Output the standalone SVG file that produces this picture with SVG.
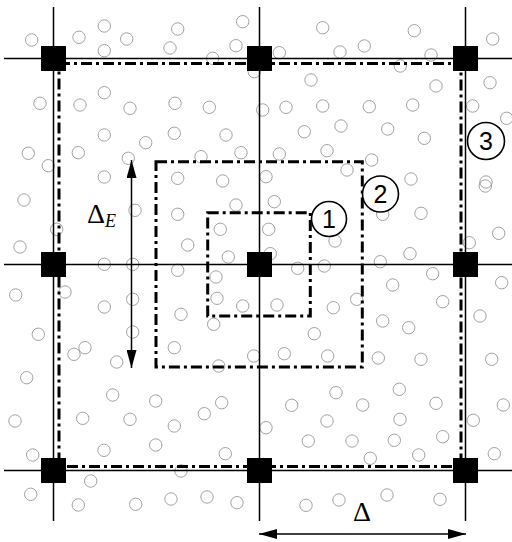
<svg xmlns="http://www.w3.org/2000/svg" width="512" height="542" viewBox="0 0 512 542">
<defs>
<style>
.dot{fill:none;stroke:#8a8a8a;stroke-width:0.8}
.grid{stroke:#000;stroke-width:1.5;fill:none}
.dash{fill:none;stroke:#000;stroke-width:3;stroke-dasharray:11 4 3 4}
.node{fill:#000}
.arr{stroke:#000;stroke-width:1.5;fill:none}
.lbl{fill:#fff;stroke:#000;stroke-width:1.6}
.num{font-family:"Liberation Sans",Arial,sans-serif;font-size:25px;text-anchor:middle}
.math{font-family:"Liberation Serif","Times New Roman",serif}
</style>
<marker id="ah" viewBox="0 0 18 10" markerWidth="18" markerHeight="10" refX="18" refY="5" orient="auto-start-reverse" markerUnits="userSpaceOnUse">
<path d="M0,0 L18,5 L0,10 z" fill="#000"/>
</marker>
</defs>
<rect width="512" height="542" fill="#fff"/>
<g id="particles">
<circle class="dot" cx="31.7" cy="40" r="6.2"/><circle class="dot" cx="79" cy="37.3" r="6.2"/><circle class="dot" cx="104.3" cy="26" r="6.2"/><circle class="dot" cx="126.7" cy="39" r="6.2"/><circle class="dot" cx="104.3" cy="50.7" r="6.2"/><circle class="dot" cx="170" cy="48" r="6.2"/><circle class="dot" cx="40" cy="103.3" r="6.2"/><circle class="dot" cx="80" cy="105" r="6.2"/><circle class="dot" cx="104.3" cy="92.7" r="6.2"/><circle class="dot" cx="130" cy="108.3" r="6.2"/><circle class="dot" cx="175" cy="103.3" r="6.2"/><circle class="dot" cx="104.3" cy="135" r="6.2"/><circle class="dot" cx="145.7" cy="142.7" r="6.2"/><circle class="dot" cx="174.3" cy="133.3" r="6.2"/><circle class="dot" cx="28.3" cy="153.3" r="6.2"/><circle class="dot" cx="48.3" cy="165.7" r="6.2"/><circle class="dot" cx="78.3" cy="152.7" r="6.2"/><circle class="dot" cx="128.3" cy="158.3" r="6.2"/><circle class="dot" cx="104.3" cy="177" r="6.2"/>
<circle class="dot" cx="177.7" cy="29" r="6.2"/><circle class="dot" cx="242.7" cy="21.7" r="6.2"/><circle class="dot" cx="322.7" cy="27.7" r="6.2"/><circle class="dot" cx="236" cy="45.7" r="6.2"/><circle class="dot" cx="212.7" cy="58.3" r="6.2"/><circle class="dot" cx="279.3" cy="52.7" r="6.2"/><circle class="dot" cx="340" cy="52" r="6.2"/><circle class="dot" cx="254.3" cy="71.7" r="6.2"/><circle class="dot" cx="311" cy="80" r="6.2"/><circle class="dot" cx="209.3" cy="107.3" r="6.2"/><circle class="dot" cx="262.7" cy="110" r="6.2"/><circle class="dot" cx="286" cy="107.3" r="6.2"/><circle class="dot" cx="322.7" cy="106" r="6.2"/><circle class="dot" cx="226" cy="135" r="6.2"/><circle class="dot" cx="304.3" cy="131.7" r="6.2"/><circle class="dot" cx="341" cy="126" r="6.2"/><circle class="dot" cx="201" cy="156.7" r="6.2"/><circle class="dot" cx="241" cy="152.7" r="6.2"/><circle class="dot" cx="279.3" cy="154" r="6.2"/><circle class="dot" cx="327" cy="150.7" r="6.2"/><circle class="dot" cx="177.7" cy="178.3" r="6.2"/><circle class="dot" cx="222.7" cy="181" r="6.2"/><circle class="dot" cx="266" cy="176.7" r="6.2"/><circle class="dot" cx="347" cy="170" r="6.2"/>
<circle class="dot" cx="414.3" cy="30.7" r="6.2"/><circle class="dot" cx="492.7" cy="39" r="6.2"/><circle class="dot" cx="364.3" cy="46" r="6.2"/><circle class="dot" cx="431" cy="55" r="6.2"/><circle class="dot" cx="400.3" cy="66" r="6.2"/><circle class="dot" cx="436" cy="86" r="6.2"/><circle class="dot" cx="490" cy="82.7" r="6.2"/><circle class="dot" cx="369.3" cy="106.7" r="6.2"/><circle class="dot" cx="412.7" cy="105" r="6.2"/><circle class="dot" cx="472.7" cy="106" r="6.2"/><circle class="dot" cx="506.7" cy="118.3" r="6.2"/><circle class="dot" cx="387.7" cy="129" r="6.2"/><circle class="dot" cx="424.3" cy="138.3" r="6.2"/><circle class="dot" cx="371.7" cy="160" r="6.2"/><circle class="dot" cx="411" cy="179" r="6.2"/><circle class="dot" cx="486" cy="182" r="6.2"/>
<circle class="dot" cx="24" cy="200" r="6.2"/><circle class="dot" cx="135" cy="210.3" r="6.2"/><circle class="dot" cx="56.7" cy="229.3" r="6.2"/><circle class="dot" cx="20" cy="247" r="6.2"/><circle class="dot" cx="104.3" cy="264.3" r="6.2"/><circle class="dot" cx="132.7" cy="264.3" r="6.2"/><circle class="dot" cx="65" cy="292" r="6.2"/><circle class="dot" cx="15.7" cy="295" r="6.2"/><circle class="dot" cx="104.3" cy="307" r="6.2"/><circle class="dot" cx="132.7" cy="299.3" r="6.2"/><circle class="dot" cx="38.3" cy="334.3" r="6.2"/><circle class="dot" cx="132.7" cy="332" r="6.2"/><circle class="dot" cx="85" cy="347.7" r="6.2"/><circle class="dot" cx="74" cy="354.3" r="6.2"/><circle class="dot" cx="116.7" cy="362" r="6.2"/><circle class="dot" cx="174.3" cy="347.7" r="6.2"/>
<circle class="dot" cx="177.7" cy="214.3" r="6.2"/><circle class="dot" cx="236" cy="205" r="6.2"/><circle class="dot" cx="274.3" cy="201.7" r="6.2"/><circle class="dot" cx="220.3" cy="229.3" r="6.2"/><circle class="dot" cx="268.7" cy="229.3" r="6.2"/><circle class="dot" cx="187.7" cy="245" r="6.2"/><circle class="dot" cx="228.3" cy="257" r="6.2"/><circle class="dot" cx="270.3" cy="253.7" r="6.2"/><circle class="dot" cx="335" cy="241" r="6.2"/><circle class="dot" cx="177.7" cy="270.3" r="6.2"/><circle class="dot" cx="216" cy="277" r="6.2"/><circle class="dot" cx="297.7" cy="268.3" r="6.2"/><circle class="dot" cx="324.3" cy="266" r="6.2"/><circle class="dot" cx="217" cy="298.3" r="6.2"/><circle class="dot" cx="242.7" cy="306" r="6.2"/><circle class="dot" cx="277" cy="305" r="6.2"/><circle class="dot" cx="333.3" cy="307.7" r="6.2"/><circle class="dot" cx="181" cy="314.3" r="6.2"/><circle class="dot" cx="213.7" cy="324.3" r="6.2"/><circle class="dot" cx="314.3" cy="333.7" r="6.2"/><circle class="dot" cx="253.7" cy="356" r="6.2"/><circle class="dot" cx="284.3" cy="353.7" r="6.2"/><circle class="dot" cx="327.7" cy="356" r="6.2"/>
<circle class="dot" cx="485.3" cy="186" r="6.2"/><circle class="dot" cx="421" cy="213.3" r="6.2"/><circle class="dot" cx="382.7" cy="214.3" r="6.2"/><circle class="dot" cx="498.7" cy="233.3" r="6.2"/><circle class="dot" cx="469.3" cy="242.7" r="6.2"/><circle class="dot" cx="410" cy="253.7" r="6.2"/><circle class="dot" cx="380.3" cy="261.7" r="6.2"/><circle class="dot" cx="432.7" cy="273.7" r="6.2"/><circle class="dot" cx="392.7" cy="285" r="6.2"/><circle class="dot" cx="501.7" cy="282.7" r="6.2"/><circle class="dot" cx="356.7" cy="299.3" r="6.2"/><circle class="dot" cx="442.7" cy="301.7" r="6.2"/><circle class="dot" cx="382.7" cy="321" r="6.2"/><circle class="dot" cx="408.7" cy="327.7" r="6.2"/><circle class="dot" cx="480" cy="316" r="6.2"/><circle class="dot" cx="378.3" cy="358" r="6.2"/><circle class="dot" cx="421" cy="359.3" r="6.2"/><circle class="dot" cx="491.7" cy="359.3" r="6.2"/>
<circle class="dot" cx="26.7" cy="377.7" r="6.2"/><circle class="dot" cx="112.7" cy="395" r="6.2"/><circle class="dot" cx="155.7" cy="401" r="6.2"/><circle class="dot" cx="15" cy="421" r="6.2"/><circle class="dot" cx="82.7" cy="418.3" r="6.2"/><circle class="dot" cx="130" cy="419.3" r="6.2"/><circle class="dot" cx="174.3" cy="426" r="6.2"/><circle class="dot" cx="32.7" cy="455" r="6.2"/><circle class="dot" cx="104" cy="450.3" r="6.2"/><circle class="dot" cx="155.7" cy="445" r="6.2"/><circle class="dot" cx="90.7" cy="481" r="6.2"/><circle class="dot" cx="30.7" cy="494.3" r="6.2"/><circle class="dot" cx="78.3" cy="505" r="6.2"/><circle class="dot" cx="135.7" cy="504.3" r="6.2"/><circle class="dot" cx="171" cy="499" r="6.2"/>
<circle class="dot" cx="218.7" cy="366" r="6.2"/><circle class="dot" cx="221.7" cy="402.7" r="6.2"/><circle class="dot" cx="204.3" cy="413.7" r="6.2"/><circle class="dot" cx="266" cy="427.7" r="6.2"/><circle class="dot" cx="291.7" cy="405.3" r="6.2"/><circle class="dot" cx="336" cy="392.7" r="6.2"/><circle class="dot" cx="327" cy="421" r="6.2"/><circle class="dot" cx="308.3" cy="441" r="6.2"/><circle class="dot" cx="225.3" cy="453.7" r="6.2"/><circle class="dot" cx="181" cy="471" r="6.2"/><circle class="dot" cx="207" cy="497" r="6.2"/><circle class="dot" cx="237" cy="502.7" r="6.2"/><circle class="dot" cx="306" cy="505.3" r="6.2"/><circle class="dot" cx="339" cy="500" r="6.2"/>
<circle class="dot" cx="399.3" cy="389.3" r="6.2"/><circle class="dot" cx="362.7" cy="405" r="6.2"/><circle class="dot" cx="436" cy="403.3" r="6.2"/><circle class="dot" cx="503.3" cy="405" r="6.2"/><circle class="dot" cx="400" cy="419.3" r="6.2"/><circle class="dot" cx="473.3" cy="420.3" r="6.2"/><circle class="dot" cx="352" cy="441" r="6.2"/><circle class="dot" cx="394.3" cy="440.3" r="6.2"/><circle class="dot" cx="442.7" cy="436.7" r="6.2"/><circle class="dot" cx="370.3" cy="458.3" r="6.2"/><circle class="dot" cx="418.7" cy="455" r="6.2"/><circle class="dot" cx="494.3" cy="453.7" r="6.2"/><circle class="dot" cx="387" cy="495" r="6.2"/><circle class="dot" cx="440" cy="499.3" r="6.2"/>
</g>
<g id="connectors">
<path class="grid" d="M53.5,7V521M259.5,7V521M465.5,7V521M4,58.5H512M4,264.5H512M4,470.5H512"/>
<rect class="dash" x="59" y="63.5" width="402" height="403"/>
<rect class="dash" x="156" y="161.7" width="206.3" height="205.3"/>
<rect class="dash" x="207.7" y="212.7" width="102.6" height="103.3"/>
<line class="arr" x1="131.5" y1="160" x2="131.5" y2="368" marker-start="url(#ah)" marker-end="url(#ah)"/>
<line class="arr" x1="259" y1="534" x2="466" y2="534" marker-start="url(#ah)" marker-end="url(#ah)"/>
</g>
<g id="n00"><rect class="node" x="41" y="46" width="25" height="25"/></g>
<g id="n10"><rect class="node" x="247" y="46" width="25" height="25"/></g>
<g id="n20"><rect class="node" x="453" y="46" width="25" height="25"/></g>
<g id="n01"><rect class="node" x="41" y="252" width="25" height="25"/></g>
<g id="n11"><rect class="node" x="247" y="252" width="25" height="25"/></g>
<g id="n21"><rect class="node" x="453" y="252" width="25" height="25"/></g>
<g id="n02"><rect class="node" x="41" y="458" width="25" height="25"/></g>
<g id="n12"><rect class="node" x="247" y="458" width="25" height="25"/></g>
<g id="n22"><rect class="node" x="453" y="458" width="25" height="25"/></g>
<g id="label1"><circle class="lbl" cx="329" cy="219" r="17.5"/><text class="num" x="329" y="228">1</text></g>
<g id="label2"><circle class="lbl" cx="380.5" cy="194" r="18"/><text class="num" x="380.5" y="203">2</text></g>
<g id="label3"><circle class="lbl" cx="486" cy="141" r="18.5"/><text class="num" x="486" y="150">3</text></g>
<g id="labelDE"><text class="math" x="87" y="223" font-size="28">Δ<tspan font-size="18" font-style="italic" dy="4">E</tspan></text></g>
<g id="labelD"><text class="math" x="353" y="521" font-size="28">Δ</text></g>
</svg>
